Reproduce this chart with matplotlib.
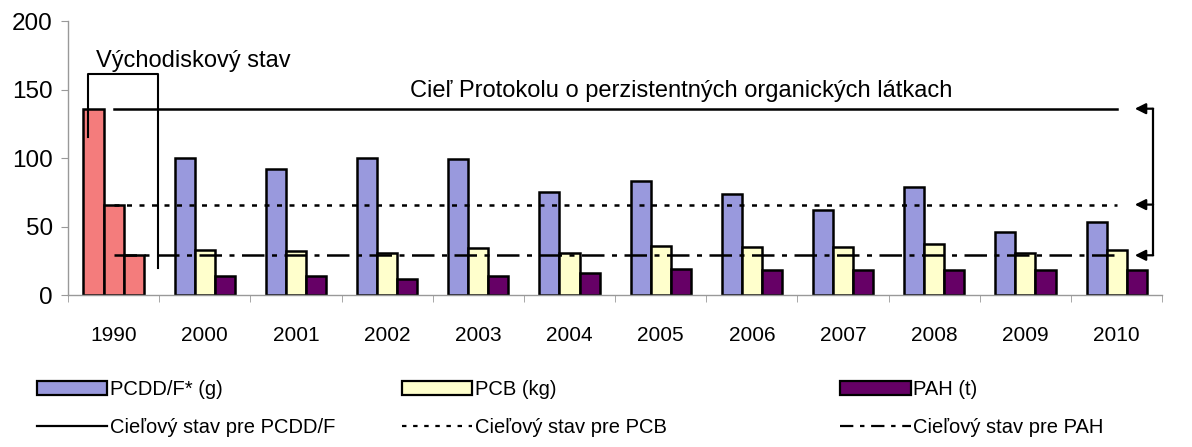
import matplotlib.pyplot as plt
from matplotlib.patches import Patch
from matplotlib.lines import Line2D
import numpy as np

plt.rcParams['font.family'] = ['Liberation Sans', 'DejaVu Sans']

years = ['1990', '2000', '2001', '2002', '2003', '2004', '2005', '2006',
         '2007', '2008', '2009', '2010']
pcdd = [136, 100, 92, 100, 99, 75, 83, 74, 62, 79, 46, 53]
pcb = [66, 33, 32, 31, 34, 31, 36, 35, 35, 37, 31, 33]
pah = [29, 14, 14, 12, 14, 16, 19, 18, 18, 18, 18, 18]

target_pcdd = 136
target_pcb = 66
target_pah = 29

c_pcdd = '#9999DD'
c_pcb = '#FFFFCC'
c_pah = '#660066'
c_base = '#F47C7C'

fig = plt.figure(figsize=(11.92, 4.47), dpi=100)
ax = fig.add_axes([0.057, 0.340, 0.918, 0.613])

x = np.arange(len(years))
w = 0.22
cols_pcdd = [c_base] + [c_pcdd] * (len(years) - 1)
cols_pcb = [c_base] + [c_pcb] * (len(years) - 1)
cols_pah = [c_base] + [c_pah] * (len(years) - 1)
ax.bar(x - w, pcdd, w, color=cols_pcdd, edgecolor='black', linewidth=1.8, zorder=2)
ax.bar(x, pcb, w, color=cols_pcb, edgecolor='black', linewidth=1.8, zorder=2)
ax.bar(x + w, pah, w, color=cols_pah, edgecolor='black', linewidth=1.8, zorder=2)

# cieľové stavy
ax.plot([0, 11], [target_pcdd] * 2, color='black', lw=1.8, zorder=3)
ax.plot([0, 11], [target_pcb] * 2, color='black', lw=1.8, dashes=(2, 3), zorder=3)
ax.plot([0, 11], [target_pah] * 2, color='black', lw=1.8,
        dashes=(9, 3, 2, 3), zorder=3)

# šípky vpravo
ax.plot([11.4, 11.4], [target_pah, target_pcdd], color='black', lw=1.6, clip_on=False)
for t in (target_pcdd, target_pcb, target_pah):
    ax.annotate('', xy=(11.2, t), xytext=(11.4, t),
                arrowprops=dict(arrowstyle='-|>', color='black', lw=1.6,
                                mutation_scale=16, shrinkA=0, shrinkB=0),
                annotation_clip=False)

# zátvorka pre východiskový stav
ax.plot([-0.28, -0.28, 0.49, 0.49], [115, 161, 161, 20], color='black', lw=1.5, zorder=3)
ax.text(-0.19, 171, 'Východiskový stav', fontsize=17, ha='left', va='center')
ax.text(3.25, 149, 'Cieľ Protokolu o perzistentných organických látkach',
        fontsize=17, ha='left', va='center')

ax.set_xlim(-0.5, 11.5)
ax.set_ylim(0, 200)
ax.set_yticks([0, 50, 100, 150, 200])
ax.set_xticks(x)
ax.set_xticklabels(years)
ax.set_xticks(np.arange(-0.5, 12, 1), minor=True)
ax.tick_params(axis='x', which='major', length=0, pad=22, labelsize=15)
ax.tick_params(axis='x', which='minor', length=5, color='#999999', direction='out')
ax.tick_params(axis='y', length=5, color='#999999', pad=6, labelsize=17.5)
for s in ('top', 'right'):
    ax.spines[s].set_visible(False)
for s in ('left', 'bottom'):
    ax.spines[s].set_color('#999999')
    ax.spines[s].set_linewidth(1.0)

# legenda v troch stĺpcoch
legend_cols = [
    (Patch(facecolor=c_pcdd, edgecolor='black', linewidth=1.6), 'PCDD/F* (g)',
     Line2D([], [], color='black', lw=1.6), 'Cieľový stav pre PCDD/F', 0.031),
    (Patch(facecolor=c_pcb, edgecolor='black', linewidth=1.6), 'PCB (kg)',
     Line2D([], [], color='black', lw=1.6, dashes=(2, 3)), 'Cieľový stav pre PCB', 0.337),
    (Patch(facecolor=c_pah, edgecolor='black', linewidth=1.6), 'PAH (t)',
     Line2D([], [], color='black', lw=1.6, dashes=(6, 3, 2, 3)), 'Cieľový stav pre PAH', 0.705),
]
for ph, pl, lh, ll, xpos in legend_cols:
    fig.legend([ph, lh], [pl, ll], loc='upper left', bbox_to_anchor=(xpos, 0.15),
               frameon=False, fontsize=14.5, handlelength=3.5, handletextpad=0.12,
               labelspacing=0.95, borderaxespad=0, borderpad=0)

fig.savefig('out.png', dpi=100)
plt.close(fig)
